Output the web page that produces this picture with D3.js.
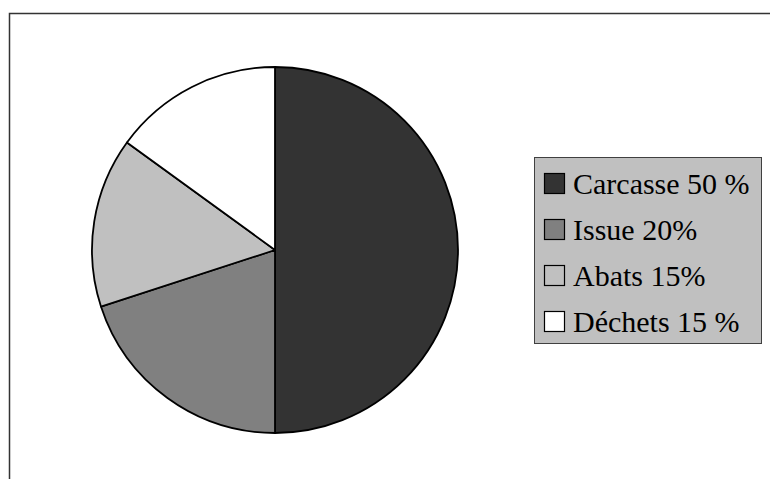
<!DOCTYPE html>
<html>
<head>
<meta charset="utf-8">
<script src="https://cdn.jsdelivr.net/npm/d3@7"></script>
<style>
  html, body { margin: 0; padding: 0; background: #fff; }
  svg { display: block; }
</style>
</head>
<body>
<svg id="chart" width="770" height="479"></svg>
<script>
// Carcass yield breakdown
const categories = ["Carcasse", "Issue", "Abats", "Déchets"];
const values = [50, 20, 15, 15];
const legendLabels = ["Carcasse 50 %", "Issue 20%", "Abats 15%", "Déchets 15 %"];
const colors = ["#333333", "#808080", "#c0c0c0", "#ffffff"];

const svg = d3.select("#chart");

// Outer chart frame (runs off the right and bottom edges)
svg.append("rect")
  .attr("x", 9.5).attr("y", 13.5)
  .attr("width", 800).attr("height", 500)
  .attr("fill", "none")
  .attr("stroke", "#333")
  .attr("stroke-width", 1.5);

const cx = 275, cy = 250, radius = 183;

const color = d3.scaleOrdinal().domain(categories).range(colors);

const pie = d3.pie()
  .sort(null)
  .value(d => d.value)
  .startAngle(0)
  .endAngle(2 * Math.PI);

const arc = d3.arc().innerRadius(0).outerRadius(radius);

const data = categories.map((c, i) => ({ name: c, value: values[i] }));

const g = svg.append("g").attr("transform", `translate(${cx},${cy})`);

g.selectAll("path.slice")
  .data(pie(data))
  .join("path")
  .attr("class", "slice")
  .attr("d", arc)
  .attr("fill", d => color(d.data.name))
  .attr("stroke", "#000")
  .attr("stroke-width", 1.8)
  .attr("stroke-linejoin", "round");

// Legend
const legend = svg.append("g").attr("transform", "translate(534,157)");
legend.append("rect")
  .attr("x", 0.5).attr("y", 0.5)
  .attr("width", 227).attr("height", 186)
  .attr("fill", "#c0c0c0")
  .attr("stroke", "#404040")
  .attr("stroke-width", 1);

const rowY = d3.scalePoint().domain(categories).range([16, 154]);

const items = legend.selectAll("g.item")
  .data(categories)
  .join("g")
  .attr("class", "item")
  .attr("transform", d => `translate(0,${rowY(d)})`);

items.append("rect")
  .attr("x", 10.5).attr("y", 0.5)
  .attr("width", 20).attr("height", 20)
  .attr("fill", d => color(d))
  .attr("stroke", "#000")
  .attr("stroke-width", 1.2);

items.append("text")
  .attr("x", 39)
  .attr("y", 21)
  .style("font-family", "'Liberation Serif', 'Times New Roman', serif")
  .style("font-size", "30px")
  .attr("fill", "#000")
  .text((d, i) => legendLabels[i]);
</script>
</body>
</html>
